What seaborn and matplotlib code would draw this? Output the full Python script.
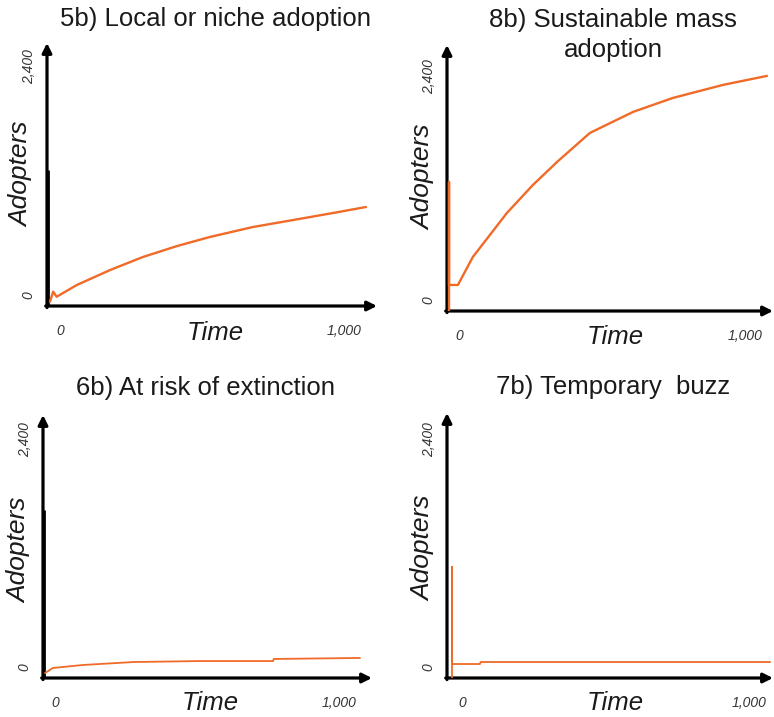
import matplotlib
matplotlib.use("Agg")
import matplotlib.pyplot as plt
import matplotlib.transforms as mtransforms
import seaborn as sns
import pandas as pd

sns.set_style("white")
plt.rcParams['font.family'] = ['Liberation Sans', 'DejaVu Sans']

# ---------------- data ----------------
titles = ["5b) Local or niche adoption", "8b) Sustainable mass\nadoption",
          "6b) At risk of extinction", "7b) Temporary  buzz"]
x_tick_values = [0, 1000]
x_tick_labels = ["0", "1,000"]
y_tick_values = [0, 2400]
y_tick_labels = ["0", "2,400"]

time_5b = [0, 10, 21, 85, 190, 294, 402, 506, 642, 769, 896, 1000]
adopt_5b = [43, 144, 93, 211, 361, 492, 602, 693, 793, 863, 934, 994]
spike_5b = 1365  # dark initial spike along the axis

time_8b = [0, 0, 0, 28, 75, 182, 264, 340, 443, 579, 704, 862, 1000]
adopt_8b = [0, 1324, 267, 267, 554, 1005, 1293, 1529, 1826, 2042, 2185, 2319, 2411]

time_6b = [0, 25, 120, 280, 492, 724, 726, 1000]
adopt_6b = [50, 101, 131, 161, 171, 171, 192, 202]
spike_6b = 1693

time_7b = [0, 0, 0, 88, 90, 1000]
adopt_7b = [0, 1119, 141, 141, 161, 161]

series = [(time_5b, adopt_5b), (time_8b, adopt_8b), (time_6b, adopt_6b), (time_7b, adopt_7b)]
spikes = [spike_5b, None, spike_6b, None]

# ---------------- layout (pixels) ----------------
W, H = 774, 717
fig = plt.figure(figsize=(W / 100, H / 100), dpi=100)

# axes rectangles: left, right, top, bottom (pixels)
rects = [(47, 377, 43, 306), (447, 773, 45, 311), (43, 372, 415, 678), (447, 773, 413, 678)]
xlims = [(-9.5, 1035), (-6.3, 1019), (-6.3, 1038), (-15.7, 1009)]
ylims = [(0, 2641), (0, 2728), (0, 2652), (0, 2672)]
title_pos = [(215, 19), (613, 35), (205, 388), (613, 387)]
ylab_pos = [(21, 174), (423, 177), (19, 550), (423, 548)]
xlab_pos = [(215, 333), (615, 337), (210, 703), (615, 703)]
line_w = [1.7, 1.7, 1.3, 1.3]

orange = "#F06A28"

for i in range(4):
    l, r, t, b = rects[i]
    ax = fig.add_axes([l / W, 1 - b / H, (r - l) / W, (b - t) / H])
    ts, ys = series[i]
    df = pd.DataFrame({"Time": ts, "Adopters": ys})
    if spikes[i] is not None:
        ax.vlines(0.004, 0, spikes[i], color="black", lw=2.0, zorder=3,
                  transform=ax.get_yaxis_transform())
    sns.lineplot(data=df, x="Time", y="Adopters", ax=ax, color=orange,
                 linewidth=line_w[i], estimator=None, sort=False, zorder=4)
    ax.set_xlim(*xlims[i])
    ax.set_ylim(*ylims[i])
    for s in ax.spines.values():
        s.set_visible(False)
    ax.set_xlabel("")
    ax.set_ylabel("")
    ax.set_facecolor("none")

    # arrow axes
    ax.annotate("", xy=(1, 0), xytext=(-0.004, 0), xycoords="axes fraction",
                arrowprops=dict(arrowstyle="-|>", lw=2.3, color="black",
                                mutation_scale=14, shrinkA=0, shrinkB=0),
                annotation_clip=False)
    ax.annotate("", xy=(0, 1), xytext=(0, -0.006), xycoords="axes fraction",
                arrowprops=dict(arrowstyle="-|>", lw=2.3, color="black",
                                mutation_scale=14, shrinkA=0, shrinkB=0),
                annotation_clip=False)

    ax.set_xticks(x_tick_values)
    ax.set_xticklabels(x_tick_labels, fontsize=10, style="italic", color="#333333")
    ax.set_yticks(y_tick_values)
    ax.set_yticklabels(y_tick_labels, fontsize=10, style="italic", color="#333333",
                       rotation=90, va="center")
    ax.tick_params(axis="x", length=0, pad=13)
    ax.tick_params(axis="y", length=0, pad=8)
    xl = ax.get_xticklabels()
    xl[0].set_ha("left")
    xl[1].set_ha("right")
    xl[0].set_transform(xl[0].get_transform() + mtransforms.ScaledTranslation(0.06, 0, fig.dpi_scale_trans))
    xl[1].set_transform(xl[1].get_transform() + mtransforms.ScaledTranslation(-0.04, 0, fig.dpi_scale_trans))
    yl = ax.get_yticklabels()
    yl[0].set_transform(yl[0].get_transform() + mtransforms.ScaledTranslation(0, 0.11, fig.dpi_scale_trans))

    tx, ty = title_pos[i]
    fig.text(tx / W, 1 - ty / H, titles[i], ha="center", va="center", fontsize=18.5,
             color="#1a1a1a", linespacing=1.3)
    lx, ly = ylab_pos[i]
    fig.text(lx / W, 1 - ly / H, "Adopters", ha="center", va="center", fontsize=19,
             style="italic", rotation=90, color="#1a1a1a")
    qx, qy = xlab_pos[i]
    fig.text(qx / W, 1 - qy / H, "Time", ha="center", va="center", fontsize=18.5,
             style="italic", color="#1a1a1a")

fig.savefig("out.png", dpi=100)
